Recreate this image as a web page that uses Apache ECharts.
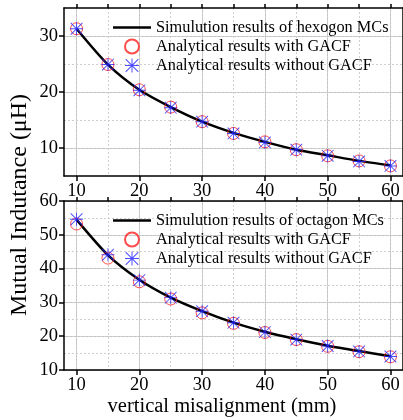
<!DOCTYPE html>
<html>
<head>
<meta charset="utf-8">
<script src="https://cdn.jsdelivr.net/npm/echarts@6/dist/echarts.min.js"></script>
<style>
    html, body { margin: 0; padding: 0; background: #fff; }
    #chart { width: 403px; height: 420px; }
</style>
</head>
<body>
<div id="chart"></div>
<script>
// vertical misalignment (mm)
var xValues = [10, 15, 20, 25, 30, 35, 40, 45, 50, 55, 60];

// hexogon MCs (uH)
var hexSim = [31.3, 24.9, 20.4, 17.3, 14.7, 12.7, 11.1, 9.7, 8.7, 7.7, 6.9];
var hexWith = [31.3, 24.9, 20.4, 17.3, 14.7, 12.6, 11.1, 9.7, 8.6, 7.7, 6.8];
var hexWithout = [31.3, 24.9, 20.3, 17.2, 14.7, 12.6, 11.0, 9.7, 8.6, 7.6, 6.8];

// octagon MCs (uH)
var octSim = [54.5, 44.0, 36.7, 31.4, 27.4, 24.0, 21.3, 19.1, 17.2, 15.6, 14.1];
var octWith = [53.2, 43.1, 36.1, 31.0, 26.9, 23.8, 21.1, 19.0, 17.0, 15.4, 13.9];
var octWithout = [54.6, 44.1, 36.6, 31.4, 27.4, 24.0, 21.2, 19.0, 17.1, 15.5, 14.0];

// tick labels
var xTicks = [10, 20, 30, 40, 50, 60];
var xMinorTicks = [10, 15, 20, 25, 30, 35, 40, 45, 50, 55, 60];
var hexTicks = [10, 20, 30];
var hexMinorTicks = [10, 15, 20, 25, 30];
var octTicks = [10, 20, 30, 40, 50, 60];
var octMinorTicks = [15, 20, 25, 30, 35, 40, 45, 50, 55];

var simHexName = 'Simulution results of hexogon MCs';
var simOctName = 'Simulution results of octagon MCs';
var withName = 'Analytical results with GACF';
var withoutName = 'Analytical results without GACF';

var serif = '"Liberation Serif", "Times New Roman", serif';
var black = { color: '#000', width: 1.5 };

// asterisk marker (4 thin bars)
var asterisk = 'path://M9.3 0L10.7 0L10.7 20L9.3 20Z' +
    'M0 9.3L20 9.3L20 10.7L0 10.7Z' +
    'M0.5 1.5L1.5 0.5L19.5 18.5L18.5 19.5Z' +
    'M18.5 0.5L19.5 1.5L1.5 19.5L0.5 18.5Z';
// flat bar, hides inside the legend line
var flatBar = 'path://M0 0L20 0L20 1.2L0 1.2Z';

function pairs(ys) {
    return xValues.map(function (x, i) { return [x, ys[i]]; });
}

function bottomAxis(gi) {
    return {
        type: 'value', gridIndex: gi, position: 'bottom', min: 8, max: 62,
        axisLine: { show: true, onZero: false, lineStyle: black },
        axisTick: { show: true, inside: false, length: 5, customValues: xTicks, lineStyle: black },
        axisLabel: { customValues: xTicks, margin: 6, color: '#000', fontSize: 18.5, fontFamily: serif },
        splitLine: { show: true, lineStyle: { color: '#c4c4c4', width: 1 } }
    };
}

function topAxis(gi) {
    return {
        type: 'value', gridIndex: gi, position: 'top', min: 8, max: 62,
        axisLine: { show: true, onZero: false, lineStyle: black },
        axisTick: { show: true, inside: false, length: 4, customValues: xMinorTicks, lineStyle: black },
        axisLabel: { show: false },
        splitLine: { show: true, lineStyle: { color: '#cfcfcf', width: 1, type: [2, 2] } }
    };
}

function leftAxis(gi, min, max, ticks) {
    return {
        type: 'value', gridIndex: gi, position: 'left', min: min, max: max,
        axisLine: { show: true, onZero: false, lineStyle: black },
        axisTick: { show: true, inside: false, length: 5, customValues: ticks, lineStyle: black },
        axisLabel: { customValues: ticks, margin: 6, color: '#000', fontSize: 18.5, fontFamily: serif },
        splitLine: { show: true, lineStyle: { color: '#c4c4c4', width: 1 } }
    };
}

function rightAxis(gi, min, max, ticks) {
    return {
        type: 'value', gridIndex: gi, position: 'right', min: min, max: max,
        axisLine: { show: true, onZero: false, lineStyle: black },
        axisTick: { show: true, inside: false, length: 4, customValues: ticks, lineStyle: black },
        axisLabel: { show: false },
        splitLine: { show: true, lineStyle: { color: '#cfcfcf', width: 1, type: [2, 2] } }
    };
}

function panelSeries(ai, simName, sim, withGacf, withoutGacf) {
    return [{
        name: simName, type: 'line', xAxisIndex: ai, yAxisIndex: ai,
        data: pairs(sim), smooth: 0.25, showSymbol: false, symbolKeepAspect: true, z: 2,
        lineStyle: { color: '#000', width: 2.5 }, itemStyle: { color: '#000' }
    }, {
        name: withName, type: 'scatter', xAxisIndex: ai, yAxisIndex: ai,
        data: pairs(withGacf), symbol: 'circle', symbolSize: 12, z: 3,
        itemStyle: { color: 'rgba(0,0,0,0)', borderColor: '#ff2020', borderWidth: 1 }
    }, {
        name: withoutName, type: 'scatter', xAxisIndex: ai, yAxisIndex: ai,
        data: pairs(withoutGacf), symbol: asterisk, symbolKeepAspect: true, symbolSize: 13, z: 4,
        itemStyle: { color: '#2020ff' }
    }];
}

function legendAt(top, first) {
    return {
        orient: 'vertical', left: 113, top: top, padding: 0,
        itemWidth: 38, itemHeight: 14, itemGap: 3,
        data: [{ name: first, icon: flatBar }, withName, withoutName],
        textStyle: { color: '#000', fontSize: 16.3, fontFamily: serif },
        selectedMode: false
    };
}

var chart = echarts.init(document.getElementById('chart'), null, { renderer: 'canvas' });

chart.setOption({
    animation: false,
    backgroundColor: '#fff',
    grid: [
        { left: 64, top: 8, width: 340, height: 168 },
        { left: 64, top: 201, width: 340, height: 169 }
    ],
    xAxis: [bottomAxis(0), topAxis(0), bottomAxis(1), topAxis(1)],
    yAxis: [
        leftAxis(0, 5, 35, hexTicks), rightAxis(0, 5, 35, hexMinorTicks),
        leftAxis(1, 10, 60, octTicks), rightAxis(1, 10, 60, octMinorTicks)
    ],
    legend: [legendAt(19.5, simHexName), legendAt(212.5, simOctName)],
    series: panelSeries(0, simHexName, hexSim, hexWith, hexWithout)
        .concat(panelSeries(2, simOctName, octSim, octWith, octWithout)),
    graphic: [{
        type: 'text', x: 20, y: 205, rotation: Math.PI / 2,
        style: { text: 'Mutual Indutance (\u03bcH)', font: '24px ' + serif, fill: '#000', align: 'center', verticalAlign: 'middle' }
    }, {
        type: 'text', x: 222, y: 407,
        style: { text: 'vertical misalignment (mm)', font: '20.5px ' + serif, fill: '#000', align: 'center', verticalAlign: 'middle' }
    }]
});
</script>
</body>
</html>
